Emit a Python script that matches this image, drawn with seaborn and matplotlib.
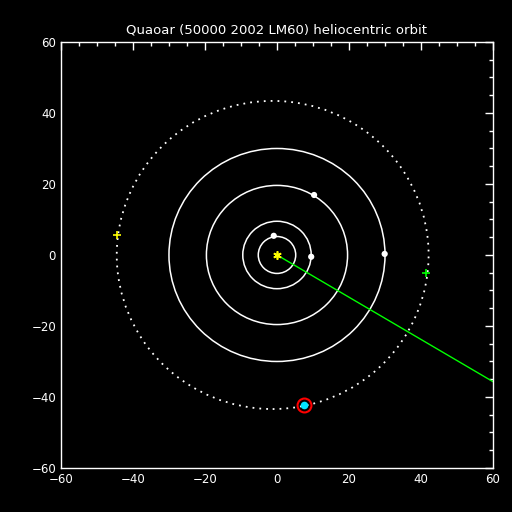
import numpy as np
import pandas as pd
import matplotlib
matplotlib.use("Agg")
import matplotlib.pyplot as plt
from matplotlib.patches import Circle, Ellipse
import seaborn as sns

# -------------------- #
# Data (AU, heliocentric x/y)
# -------------------- #
planet_names = ["Jupiter", "Saturn", "Uranus", "Neptune"]
planet_x = [-0.9, 9.5, 10.3, 29.9]
planet_y = [5.4, -0.5, 16.9, 0.3]
orbit_radii = [5.2, 9.5, 19.6, 30.0]

# Quaoar orbit (drawn as a dotted ellipse)
quaoar_center = (-1.2, 0.0)
quaoar_axes = (86.6, 86.8)  # full width / height
quaoar_x = [7.5]
quaoar_y = [-42.2]

# Markers: aphelion (yellow +) and perihelion (green +)
aph_x, aph_y = [-44.4], [5.5]
per_x, per_y = [41.5], [-5.0]

# Green line from the Sun outwards
line_x = [0.0, 80.0]
line_y = [0.0, -47.6]

title = "Quaoar (50000 2002 LM60) heliocentric orbit"

# -------------------- #
# Style
# -------------------- #
sns.set_style("dark", {
    "axes.facecolor": "black",
    "figure.facecolor": "black",
    "axes.edgecolor": "white",
    "axes.grid": False,
    "xtick.color": "white",
    "ytick.color": "white",
    "text.color": "white",
})
plt.rcParams["font.family"] = ["DejaVu Sans"]

fig = plt.figure(figsize=(5.12, 5.12), dpi=100)
ax = fig.add_axes([0.119, 0.086, 0.844, 0.832])
ax.set_facecolor("black")

for r in orbit_radii:
    ax.add_patch(Circle((0, 0), r, fill=False, edgecolor="white", lw=1.1))

ax.add_patch(Ellipse(quaoar_center, quaoar_axes[0], quaoar_axes[1], fill=False,
                     edgecolor="white", lw=1.3, linestyle=(0, (1, 2.8))))

ax.plot(line_x, line_y, color="#00ff00", lw=1)

planets = pd.DataFrame({"name": planet_names, "x": planet_x, "y": planet_y})
sns.scatterplot(data=planets, x="x", y="y", color="white", s=20,
                edgecolor="none", ax=ax, zorder=5)

ax.plot([0], [0], marker=(6, 2, 0), color="yellow", markersize=6, mew=1.2,
        linestyle="none", zorder=6)
ax.plot(aph_x, aph_y, marker="+", color="yellow", markersize=5.5, mew=1.2,
        linestyle="none")
ax.plot(per_x, per_y, marker="+", color="#00ff00", markersize=5.5, mew=1.2,
        linestyle="none")

ax.plot(quaoar_x, quaoar_y, marker="o", color="red", markersize=10,
        mfc="none", mew=1.5, linestyle="none", zorder=6)
ax.plot(quaoar_x, quaoar_y, marker="o", color="#00e5ff", markersize=5.5,
        mec="none", linestyle="none", zorder=7)

ax.set_xlim(-60, 60)
ax.set_ylim(-60, 60)
ax.set_xticks(range(-60, 61, 20))
ax.set_yticks(range(-60, 61, 20))
ax.set_xticks(range(-60, 61, 5), minor=True)
ax.set_yticks(range(-60, 61, 5), minor=True)
ax.tick_params(which="both", direction="in", top=True, right=True,
               colors="white", labelsize=8.5)
ax.tick_params(which="major", length=6, width=1)
ax.tick_params(which="minor", length=3, width=1)
for s in ax.spines.values():
    s.set_color("white")
    s.set_linewidth(1)
ax.set_xlabel("")
ax.set_ylabel("")
ax.set_title(title, color="white", fontsize=9.5, pad=6)

fig.savefig("out.png", dpi=100, facecolor="black")
